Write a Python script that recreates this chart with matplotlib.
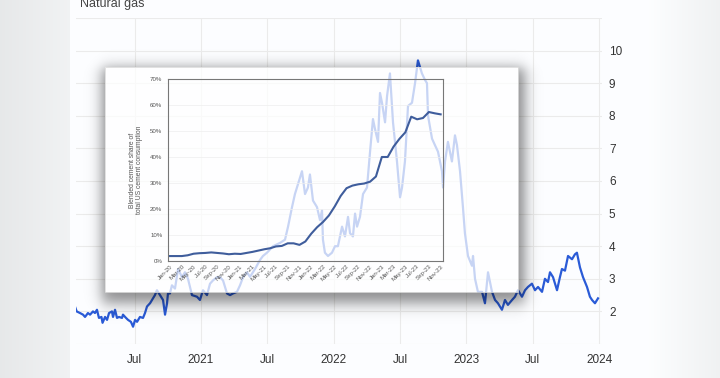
import numpy as np
import matplotlib
matplotlib.use("Agg")
import matplotlib.pyplot as plt
from matplotlib.patches import Rectangle

plt.rcParams['font.family'] = ['Liberation Sans', 'DejaVu Sans']

# ---------------- data: natural gas price (decimal year, USD/MMBtu) ----------------
gas_t = [2020.050, 2020.063, 2020.088, 2020.111, 2020.126, 2020.148, 2020.164, 2020.186,
         2020.201, 2020.216, 2020.231, 2020.250, 2020.258, 2020.277, 2020.292, 2020.307,
         2020.329, 2020.337, 2020.352, 2020.367, 2020.382, 2020.405, 2020.412, 2020.435,
         2020.450, 2020.472, 2020.488, 2020.503, 2020.518, 2020.540, 2020.563, 2020.578,
         2020.593, 2020.616, 2020.638, 2020.653, 2020.668, 2020.691, 2020.714, 2020.729,
         2020.744, 2020.751, 2020.766, 2020.781,
         2020.804, 2020.827, 2020.857, 2020.879, 2020.902, 2020.932, 2020.970, 2020.992,
         2021.015, 2021.045, 2021.068, 2021.090, 2021.121, 2021.143, 2021.166, 2021.196,
         2021.219, 2021.241, 2021.271, 2021.294, 2021.317, 2021.347, 2021.369, 2021.407,
         2021.445, 2021.467, 2021.497, 2021.543, 2021.595, 2021.633, 2021.656, 2021.686,
         2021.708, 2021.731, 2021.761, 2021.784, 2021.806, 2021.821, 2021.844, 2021.874,
         2021.897, 2021.912, 2021.919, 2021.934, 2021.957, 2021.987, 2022.010, 2022.032,
         2022.063, 2022.085, 2022.108, 2022.123, 2022.145, 2022.161, 2022.176, 2022.198,
         2022.221, 2022.251, 2022.274, 2022.296, 2022.311, 2022.334, 2022.349, 2022.364,
         2022.387, 2022.402, 2022.424, 2022.447, 2022.477, 2022.500, 2022.515, 2022.537,
         2022.560, 2022.590, 2022.613, 2022.635, 2022.650, 2022.665, 2022.688, 2022.703,
         2022.711, 2022.741, 2022.763, 2022.786, 2022.816, 2022.824, 2022.839, 2022.861,
         2022.891, 2022.914, 2022.929, 2022.952, 2022.974, 2022.989, 2023.012, 2023.042,
         2023.050, 2023.065, 2023.087, 2023.118, 2023.140, 2023.163, 2023.193, 2023.216,
         2023.238, 2023.268, 2023.291, 2023.313, 2023.344, 2023.366, 2023.389, 2023.419,
         2023.442, 2023.464, 2023.494, 2023.517, 2023.540, 2023.570, 2023.592, 2023.615,
         2023.630, 2023.653, 2023.683, 2023.705, 2023.720, 2023.743, 2023.766, 2023.796,
         2023.818, 2023.833, 2023.856, 2023.879, 2023.909, 2023.931, 2023.947, 2023.969,
         2023.992]
gas_v = [2.15, 2.00, 1.95, 1.90, 1.83, 1.95, 1.90, 2.00,
         1.95, 2.05, 1.80, 1.83, 1.65, 1.83, 1.74, 1.95,
         2.00, 1.83, 2.05, 1.80, 1.83, 1.80, 1.90, 1.80,
         1.74, 1.68, 1.53, 1.74, 1.68, 1.83, 1.80, 1.95,
         2.15, 2.25, 2.40, 2.50, 2.65, 2.50, 2.35, 1.90,
         2.25, 2.55, 2.55, 2.80,
         2.70, 3.30, 3.05, 3.20, 3.00, 2.50, 2.45, 2.35,
         2.65, 2.50, 2.85, 2.95, 3.05, 3.05, 2.95, 2.55,
         2.50, 2.55, 2.60, 2.80, 3.05, 3.20, 3.06, 3.30,
         3.58, 3.70, 3.80, 4.00, 4.10, 4.20, 4.60, 5.20,
         5.60, 5.90, 6.30, 5.60, 5.80, 6.20, 5.40, 5.20,
         4.80, 5.10, 4.20, 3.80, 3.70, 3.80, 4.00, 4.00,
         4.60, 4.30, 4.90, 4.40, 4.30, 5.00, 4.60, 4.90,
         5.60, 5.80, 6.90, 7.90, 7.60, 7.20, 8.70, 8.40,
         7.80, 8.60, 9.30, 7.80, 6.60, 5.50, 5.80, 6.60,
         8.30, 8.40, 9.00, 9.70, 9.50, 9.30, 9.10, 9.00,
         8.00, 7.30, 7.10, 6.90, 6.30, 5.80, 6.60, 7.20,
         6.60, 7.40, 7.10, 6.30, 5.20, 4.40, 3.70, 3.40,
         3.70, 3.00, 2.60, 2.60, 2.25, 3.20, 2.60, 2.35,
         2.25, 2.05, 2.35, 2.20, 2.35, 2.45, 2.65, 2.45,
         2.65, 2.75, 2.85, 2.65, 2.75, 2.60, 3.00, 2.90,
         3.20, 3.05, 2.65, 3.05, 3.30, 3.25, 3.70, 3.60,
         3.75, 3.80, 3.35, 3.05, 2.75, 2.45, 2.35, 2.25,
         2.40]

x_tick_pos = [2020.5, 2021.0, 2021.5, 2022.0, 2022.5, 2023.0, 2023.5, 2024.0]
x_tick_lab = ["Jul", "2021", "Jul", "2022", "Jul", "2023", "Jul", "2024"]
y_ticks = list(range(1, 12))
y_tick_lab = ["" if v in (1, 11) else str(v) for v in y_ticks]

# ---------------- data: inset (blended cement share, %) ----------------
months = ["Jan-20", "Feb-20", "Mar-20", "Apr-20", "May-20", "Jun-20", "Jul-20", "Aug-20",
          "Sep-20", "Oct-20", "Nov-20", "Dec-20", "Jan-21", "Feb-21", "Mar-21", "Apr-21",
          "May-21", "Jun-21", "Jul-21", "Aug-21", "Sep-21", "Oct-21", "Nov-21", "Dec-21",
          "Jan-22", "Feb-22", "Mar-22", "Apr-22", "May-22", "Jun-22", "Jul-22", "Aug-22",
          "Sep-22", "Oct-22", "Nov-22", "Dec-22", "Jan-23", "Feb-23", "Mar-23", "Apr-23",
          "May-23", "Jun-23", "Jul-23", "Aug-23", "Sep-23", "Oct-23", "Nov-23"]
cement_share = [1.9, 1.9, 1.9, 2.2, 2.8, 3.0, 3.1, 3.3, 3.1, 2.9, 2.6, 2.8,
                2.7, 3.1, 3.5, 4.0, 4.5, 4.9, 5.6, 5.8, 6.8, 6.8, 6.2, 7.5,
                10.5, 13.0, 15.0, 17.5, 21.0, 25.0, 28.0, 29.0, 29.5, 29.8, 30.5, 32.5,
                40.0, 40.0, 44.0, 47.0, 49.5, 55.5, 54.5, 55.0, 57.3, 56.8, 56.4]
inset_yticks = [0, 10, 20, 30, 40, 50, 60, 70]

W, H = 720, 378
fig = plt.figure(figsize=(W / 100, H / 100), dpi=100)

# ---------------- page background ----------------
bg = fig.add_axes([0, 0, 1, 1], zorder=0)
xs = np.arange(W)
prof = np.ones(W)
lm = xs < 70
prof[lm] = 0.915 + 0.04 * xs[lm] / 70
rm = xs > 648
prof[rm] = 1 - 0.05 * (xs[rm] - 648) / 72
img = np.dstack([np.tile(prof - 0.01, (H, 1)), np.tile(prof - 0.004, (H, 1)), np.tile(prof, (H, 1))])
img = np.clip(img, 0, 1)
bg.imshow(img, extent=[0, W, H, 0], aspect='auto')
bg.set_xlim(0, W); bg.set_ylim(H, 0); bg.axis('off')

fig.text(80 / W, 1 - 7.5 / H, "Natural gas", fontsize=9, color='#444444', va='baseline', ha='left')

# ---------------- main chart ----------------
ax = fig.add_axes([76 / W, 1 - 344 / H, (602 - 76) / W, (344 - 18) / H], zorder=1)
ax.patch.set_alpha(0)
ax.plot(gas_t, gas_v, color='#2a5bd7', lw=1.6, solid_joinstyle='round')
ax.set_xlim(2020.058, 2024.022)
ax.set_ylim(1, 11)
ax.set_xticks(x_tick_pos)
ax.set_xticklabels(x_tick_lab)
ax.set_yticks(y_ticks)
ax.set_yticklabels(y_tick_lab)
ax.yaxis.tick_right()
ax.tick_params(axis='both', length=0, labelsize=8.5, labelcolor='#333333')
ax.tick_params(axis='y', pad=5)
ax.tick_params(axis='x', pad=7)
ax.grid(True, color='#ebebeb', lw=0.8)
for s in ax.spines.values():
    s.set_visible(False)

# ---------------- inset card overlay ----------------
ov = fig.add_axes([0, 0, 1, 1], zorder=2)
ov.set_xlim(0, W); ov.set_ylim(H, 0); ov.axis('off')
bx0, bx1, by0, by1 = 105, 518, 67, 292
X, Y = np.meshgrid(np.arange(W) + 0.5, np.arange(H) + 0.5)
def sig(d, w):
    return 1 / (1 + np.exp(-d / w))
sh = sig(X - (bx0 - 3), 4) * sig((bx1 + 7) - X, 4) * sig(Y - (by0 + 1), 4) * sig((by1 + 11) - Y, 4.5)
inside = (X > bx0) & (X < bx1) & (Y > by0) & (Y < by1)
sh[inside] = 0
rgba = np.zeros((H, W, 4))
rgba[..., 3] = sh * 0.45
ov.imshow(rgba, extent=[0, W, H, 0], aspect='auto', zorder=1)
ov.add_patch(Rectangle((bx0, by0), bx1 - bx0, by1 - by0, facecolor='white', alpha=0.74,
                       edgecolor='none', zorder=2))
ov.add_patch(Rectangle((bx0, by0), bx1 - bx0, by1 - by0, facecolor='none',
                       edgecolor='#dcdcdc', lw=0.6, zorder=3))
ov.set_xlim(0, W); ov.set_ylim(H, 0)

# ---------------- inset chart ----------------
ia = fig.add_axes([168 / W, 1 - 261 / H, 275 / W, 182 / H], zorder=3)
ia.patch.set_alpha(0)
ia.plot(range(len(cement_share)), cement_share, color='#3f5d9c', lw=1.5)
ia.set_xlim(-0.35, 46.4)
ia.set_ylim(0, 70)
ia.set_yticks(inset_yticks)
ia.set_yticklabels([f"{v}%" for v in inset_yticks])
ia.set_xticks(range(0, len(months), 2))
ia.set_xticklabels(months[::2], rotation=45, ha='right', rotation_mode='anchor')
ia.tick_params(axis='both', length=0, labelsize=4.4, labelcolor='#555555')
ia.tick_params(axis='y', pad=4)
ia.tick_params(axis='x', pad=2)
ia.yaxis.grid(True, color='#eeeeee', lw=0.5)
for s in ia.spines.values():
    s.set_color('#777777')
    s.set_linewidth(0.8)
ia.set_ylabel("Blended cement share of\ntotal US cement consumption", fontsize=4.9,
              color='#555555', labelpad=5, linespacing=1.1)

fig.savefig("out.png", dpi=100)
